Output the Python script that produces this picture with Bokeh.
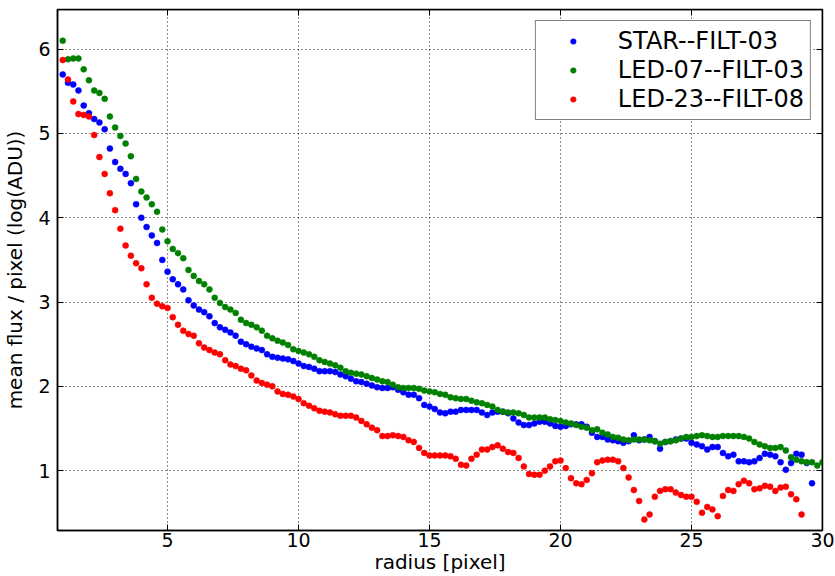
import numpy as np
from bokeh.plotting import figure
from bokeh.models import Range1d, FixedTicker, LinearAxis, Legend, LegendItem, ColumnDataSource
from bokeh.embed import file_html
from bokeh.resources import INLINE

# radial profiles, sampled every 0.2 pixel starting at radius 1.0
radius_start = 1.0
radius_step = 0.2

star_filt03 = [
    5.70, 5.60, 5.58, 5.51, 5.33, 5.24, 5.17, 5.13, 5.05, 4.82,
    4.66, 4.58, 4.52, 4.41, 4.16, 4.00, 3.89, 3.79, 3.70, 3.50,
    3.36, 3.27, 3.21, 3.15, 3.02, 2.96, 2.91, 2.88, 2.83, 2.75,
    2.70, 2.67, 2.64, 2.60, 2.53, 2.50, 2.47, 2.45, 2.43, 2.38,
    2.35, 2.34, 2.33, 2.32, 2.30, 2.27, 2.24, 2.23, 2.21, 2.18,
    2.18, 2.18, 2.17, 2.14, 2.12, 2.09, 2.06, 2.05, 2.03, 2.01,
    1.99, 1.98, 1.98, 1.99, 1.96, 1.93, 1.90, 1.90, 1.86, 1.78,
    1.76, 1.73, 1.69, 1.68, 1.70, 1.70, 1.72, 1.72, 1.72, 1.72,
    1.69, 1.66, 1.69, 1.70, 1.70, 1.68, 1.62, 1.57, 1.54, 1.54,
    1.56, 1.58, 1.58, 1.56, 1.53, 1.52, 1.53, 1.55, 1.55, 1.55,
    1.52, 1.45, 1.40, 1.40, 1.37, 1.36, 1.35, 1.33, 1.35, 1.42,
    1.36, 1.37, 1.40, 1.35, 1.26, 1.34, 1.35, 1.37, 1.38, 1.38,
    1.33, 1.31, 1.29, 1.25, 1.28, 1.28, 1.21, 1.17, 1.19, 1.11,
    1.11, 1.10, 1.11, 1.15, 1.20, 1.19, 1.17, 1.10, 1.01, 1.09,
    1.20, 1.19, 1.09, 0.85,
]

led07_filt03 = [
    6.10, 5.88, 5.89, 5.89, 5.76, 5.63, 5.51, 5.48, 5.41, 5.20,
    5.07, 4.97, 4.88, 4.73, 4.46, 4.31, 4.24, 4.16, 4.07, 3.86,
    3.72, 3.63, 3.58, 3.52, 3.38, 3.31, 3.25, 3.21, 3.15, 3.05,
    2.99, 2.94, 2.91, 2.87, 2.79, 2.75, 2.73, 2.70, 2.66, 2.60,
    2.57, 2.54, 2.52, 2.49, 2.44, 2.42, 2.40, 2.38, 2.35, 2.31,
    2.29, 2.27, 2.25, 2.22, 2.18, 2.16, 2.15, 2.14, 2.12, 2.10,
    2.08, 2.06, 2.05, 2.02, 1.99, 1.98, 1.98, 1.98, 1.97, 1.95,
    1.94, 1.93, 1.91, 1.90, 1.87, 1.86, 1.85, 1.85, 1.83, 1.81,
    1.80, 1.78, 1.76, 1.72, 1.70, 1.69, 1.69, 1.68, 1.66, 1.63,
    1.63, 1.63, 1.63, 1.61, 1.60, 1.59, 1.57, 1.56, 1.54, 1.52,
    1.51, 1.48, 1.49, 1.45, 1.43, 1.40, 1.39, 1.37, 1.36, 1.37,
    1.37, 1.37, 1.36, 1.35, 1.32, 1.34, 1.35, 1.36, 1.38, 1.40,
    1.40, 1.41, 1.42, 1.41, 1.40, 1.40, 1.41, 1.41, 1.41, 1.41,
    1.40, 1.38, 1.34, 1.31, 1.29, 1.27, 1.27, 1.28, 1.24, 1.16,
    1.13, 1.11, 1.10, 1.10, 1.06, 1.10,
]

led23_filt08 = [
    5.87, 5.64, 5.38, 5.23, 5.22, 5.20, 4.98, 4.72, 4.52, 4.29,
    4.09, 3.87, 3.67, 3.55, 3.46, 3.40, 3.21, 3.05, 2.98, 2.95,
    2.93, 2.82, 2.73, 2.66, 2.62, 2.60, 2.51, 2.46, 2.43, 2.40,
    2.38, 2.31, 2.26, 2.24, 2.21, 2.19, 2.13, 2.07, 2.04, 2.02,
    2.00, 1.94, 1.91, 1.90, 1.88, 1.85, 1.80, 1.77, 1.74, 1.71,
    1.70, 1.69, 1.67, 1.65, 1.65, 1.65, 1.63, 1.59, 1.55, 1.51,
    1.48, 1.41, 1.41, 1.42, 1.41, 1.40, 1.36, 1.34, 1.27, 1.21,
    1.18, 1.18, 1.18, 1.18, 1.17, 1.14, 1.07, 1.06, 1.14, 1.19,
    1.25, 1.25, 1.28, 1.30, 1.26, 1.22, 1.21, 1.15, 1.05, 0.96,
    0.95, 0.95, 1.00, 1.05, 1.11, 1.12, 1.03, 0.91, 0.85, 0.84,
    0.89, 0.97, 1.10, 1.12, 1.13, 1.13, 1.11, 1.03, 0.92, 0.77,
    0.64, 0.42, 0.48, 0.69, 0.76, 0.78, 0.78, 0.74, 0.71, 0.69,
    0.69, 0.63, 0.50, 0.57, 0.54, 0.46, 0.70, 0.77, 0.76, 0.84,
    0.88, 0.85, 0.78, 0.79, 0.82, 0.81, 0.76, 0.80, 0.81, 0.72,
    0.66, 0.48,
]

series_labels = ["STAR--FILT-03", "LED-07--FILT-03", "LED-23--FILT-08"]
series_colors = ["#0000ff", "#008000", "#ff0000"]
x_ticks = [5, 10, 15, 20, 25, 30]
y_ticks = [1, 2, 3, 4, 5, 6]
x_min, x_max = 0.8, 30.0
y_min, y_max = 0.29, 6.47

FONT = "DejaVu Sans"

# Bokeh's standalone page has no body margin, so the canvas fills the window
p = figure(width=835, height=576, output_backend="svg", toolbar_location=None,
           x_range=Range1d(x_min, x_max), y_range=Range1d(y_min, y_max),
           min_border_left=57, min_border_right=13, min_border_top=9, min_border_bottom=46,
           background_fill_color="white", border_fill_color="white")

p.outline_line_color = "black"
p.outline_line_width = 1.5

p.xaxis.ticker = FixedTicker(ticks=x_ticks)
p.yaxis.ticker = FixedTicker(ticks=y_ticks)
p.xaxis.axis_label = "radius [pixel]"
p.yaxis.axis_label = "mean flux / pixel (log(ADU))"

for ax in p.axis:
    ax.major_tick_in = 6
    ax.major_tick_out = 0
    ax.minor_tick_in = 0
    ax.minor_tick_out = 0
    ax.axis_line_color = "black"
    ax.axis_line_width = 1.5
    ax.major_tick_line_color = "black"
    ax.major_tick_line_width = 1
    ax.major_label_text_font = FONT
    ax.major_label_text_font_size = "19px"
    ax.major_label_text_color = "black"
    ax.axis_label_text_font = FONT
    ax.axis_label_text_font_size = "20px"
    ax.axis_label_text_font_style = "normal"
    ax.axis_label_text_color = "black"

p.xaxis.major_label_standoff = 2
p.xaxis.axis_label_standoff = 0
p.yaxis.major_label_standoff = 7
p.yaxis.axis_label_standoff = 8

# inward ticks on the top and right spines
for loc, ticks, fixed in (("above", x_ticks, y_max), ("right", y_ticks, x_max)):
    ax = LinearAxis(ticker=FixedTicker(ticks=ticks), fixed_location=fixed,
                    major_label_text_font_size="1px", major_label_text_color=None,
                    major_label_standoff=0, major_tick_in=6, major_tick_out=0,
                    minor_tick_in=0, minor_tick_out=0, axis_line_color="black",
                    axis_line_width=1.5, major_tick_line_color="black")
    p.add_layout(ax, loc)

for g in (p.xgrid, p.ygrid):
    g.grid_line_color = "black"
    g.grid_line_dash = "1 3"
    g.grid_line_width = 1
    g.grid_line_alpha = 0.9

items = []
for vals, label, color in zip((star_filt03, led07_filt03, led23_filt08), series_labels, series_colors):
    r = np.round(radius_start + radius_step * np.arange(len(vals)), 1)
    src = ColumnDataSource(dict(x=r, y=vals))
    rend = p.scatter("x", "y", source=src, size=6, fill_color=color, line_color=color, line_width=0.5)
    items.append(LegendItem(label=label, renderers=[rend]))

legend = Legend(items=items, location="top_right", margin=11, padding=6, spacing=1,
                label_text_font=FONT, label_text_font_size="24px", label_text_color="black",
                glyph_width=62, glyph_height=14, label_height=26, label_standoff=14,
                border_line_color="black", border_line_width=1.5,
                background_fill_color="white", background_fill_alpha=1.0)
p.add_layout(legend)

open("out.html", "w").write(file_html(p, INLINE))
